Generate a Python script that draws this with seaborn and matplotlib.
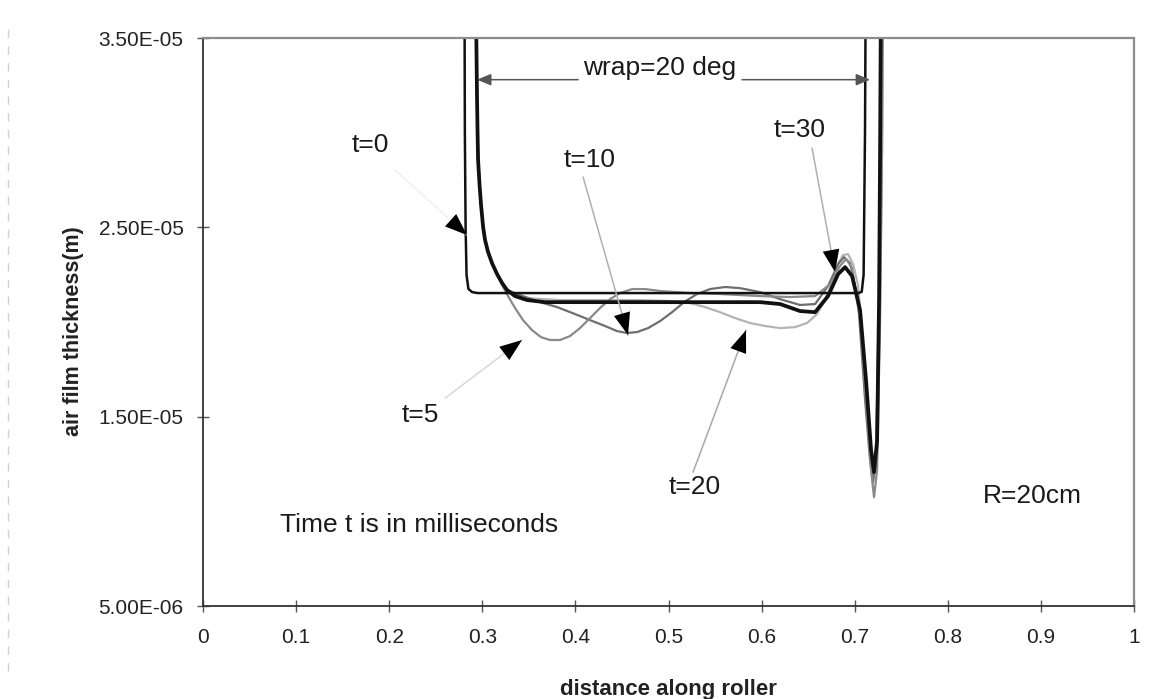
import numpy as np
import pandas as pd
import matplotlib
matplotlib.use("Agg")
import matplotlib.pyplot as plt
from matplotlib.lines import Line2D
import seaborn as sns

sns.set_style("white")
plt.rcParams["font.family"] = ["Liberation Sans", "DejaVu Sans"]

# ---- air film profiles along the roller (x: fraction of roller, y: metres) ----
# entry region shared by the later profiles
inlet_x = [0.2928, 0.2938, 0.2943, 0.2948, 0.2954, 0.2970, 0.2986, 0.3008, 0.3029,
           0.3061, 0.3104]
inlet_y = [3.80e-5, 3.384e-5, 3.172e-5, 3.014e-5, 2.856e-5, 2.723e-5, 2.618e-5,
           2.502e-5, 2.433e-5, 2.370e-5, 2.311e-5]
inlet_tail_x = [0.3158, 0.3212, 0.3265]
inlet_tail_y = [2.253e-5, 2.206e-5, 2.169e-5]

x_t0 = [0.2808, 0.2812, 0.2820, 0.2830, 0.2850, 0.2890, 0.2950, 0.4500, 0.6000,
        0.7040, 0.7075, 0.7095, 0.7110, 0.7118]
y_t0 = [3.80e-5, 3.00e-5, 2.50e-5, 2.25e-5, 2.175e-5, 2.158e-5, 2.153e-5, 2.153e-5,
        2.153e-5, 2.153e-5, 2.160e-5, 2.25e-5, 3.00e-5, 3.80e-5]

x_t5 = [0.3158, 0.3212, 0.3276, 0.3351, 0.3437, 0.3534, 0.3630, 0.3727, 0.3835,
        0.3942, 0.4049, 0.4157, 0.4264, 0.4372, 0.4479, 0.4608, 0.4748, 0.4909,
        0.5231, 0.5553, 0.5983, 0.6305, 0.6574, 0.6735, 0.6842, 0.6907, 0.6971,
        0.7057, 0.7121, 0.7175, 0.7207, 0.7240, 0.7272, 0.7293, 0.7304]
y_t5 = [2.253e-5, 2.195e-5, 2.137e-5, 2.074e-5, 2.010e-5, 1.957e-5, 1.920e-5, 1.905e-5,
        1.905e-5, 1.926e-5, 1.968e-5, 2.021e-5, 2.074e-5, 2.121e-5, 2.153e-5, 2.174e-5,
        2.174e-5, 2.164e-5, 2.153e-5, 2.148e-5, 2.137e-5, 2.132e-5, 2.137e-5, 2.200e-5,
        2.296e-5, 2.333e-5, 2.285e-5, 2.010e-5, 1.588e-5, 1.218e-5, 1.075e-5, 1.218e-5,
        2.010e-5, 2.908e-5, 3.80e-5]

x_t10 = [0.3405, 0.3620, 0.3802, 0.3996, 0.4157, 0.4318, 0.4447, 0.4554, 0.4662,
         0.4780, 0.4909, 0.5038, 0.5166, 0.5306, 0.5446, 0.5607, 0.5768, 0.5983,
         0.6198, 0.6412, 0.6574, 0.6713, 0.6821, 0.6885, 0.6950, 0.7035, 0.7111,
         0.7164, 0.7197, 0.7229, 0.7261, 0.7282, 0.7293]
y_t10 = [2.142e-5, 2.105e-5, 2.079e-5, 2.042e-5, 2.010e-5, 1.979e-5, 1.952e-5, 1.942e-5,
         1.947e-5, 1.968e-5, 2.005e-5, 2.052e-5, 2.105e-5, 2.148e-5, 2.174e-5, 2.185e-5,
         2.179e-5, 2.158e-5, 2.121e-5, 2.090e-5, 2.095e-5, 2.190e-5, 2.306e-5, 2.343e-5,
         2.311e-5, 2.116e-5, 1.588e-5, 1.271e-5, 1.155e-5, 1.324e-5, 2.116e-5, 2.908e-5,
         3.80e-5]

x_t20 = [0.3480, 0.3835, 0.4264, 0.4694, 0.5016, 0.5231, 0.5392, 0.5553, 0.5714,
         0.5875, 0.6036, 0.6198, 0.6359, 0.6488, 0.6595, 0.6681, 0.6756, 0.6821,
         0.6874, 0.6928, 0.6982, 0.7035, 0.7078, 0.7121, 0.7175, 0.7207, 0.7240,
         0.7272, 0.7293, 0.7304]
y_t20 = [2.126e-5, 2.116e-5, 2.116e-5, 2.116e-5, 2.111e-5, 2.100e-5, 2.079e-5, 2.052e-5,
         2.021e-5, 1.995e-5, 1.979e-5, 1.968e-5, 1.973e-5, 1.995e-5, 2.042e-5, 2.116e-5,
         2.211e-5, 2.306e-5, 2.354e-5, 2.359e-5, 2.306e-5, 2.195e-5, 1.957e-5, 1.588e-5,
         1.260e-5, 1.176e-5, 1.324e-5, 2.116e-5, 2.908e-5, 3.80e-5]

x_t30 = [0.3351, 0.3480, 0.3673, 0.4500, 0.5500, 0.5983, 0.6198, 0.6412, 0.6574,
         0.6713, 0.6821, 0.6896, 0.6971, 0.7057, 0.7121, 0.7175, 0.7207, 0.7240,
         0.7261, 0.7272, 0.7282]
y_t30 = [2.137e-5, 2.116e-5, 2.105e-5, 2.105e-5, 2.105e-5, 2.105e-5, 2.095e-5, 2.058e-5,
         2.052e-5, 2.137e-5, 2.253e-5, 2.290e-5, 2.243e-5, 2.063e-5, 1.693e-5, 1.324e-5,
         1.207e-5, 1.376e-5, 2.116e-5, 2.908e-5, 3.80e-5]

x_ticks = [0, 0.1, 0.2, 0.3, 0.4, 0.5, 0.6, 0.7, 0.8, 0.9, 1]
x_tick_labels = ["0", "0.1", "0.2", "0.3", "0.4", "0.5", "0.6", "0.7", "0.8", "0.9", "1"]
y_ticks = [5.0e-6, 1.5e-5, 2.5e-5, 3.5e-5]
y_tick_labels = ["5.00E-06", "1.50E-05", "2.50E-05", "3.50E-05"]

# full profiles: later times start from the common entry shape
full = {
    "t=0": (x_t0, y_t0),
    "t=5": (inlet_x + x_t5, inlet_y + y_t5),
    "t=10": (inlet_x + inlet_tail_x + x_t10, inlet_y + inlet_tail_y + y_t10),
    "t=20": (inlet_x + inlet_tail_x + x_t20, inlet_y + inlet_tail_y + y_t20),
    "t=30": (inlet_x + inlet_tail_x + x_t30, inlet_y + inlet_tail_y + y_t30),
}
styles = [
    ("t=20", "#b4b4b4", 1.6),
    ("t=10", "#6e6e6e", 1.6),
    ("t=5", "#8a8a8a", 1.6),
    ("t=0", "#111111", 1.8),
    ("t=30", "#111111", 2.7),
]
df = pd.concat(
    [pd.DataFrame({"distance": full[k][0], "thickness": full[k][1], "time": k})
     for k in full],
    ignore_index=True,
)

fig = plt.figure(figsize=(11.61, 6.99), dpi=100)
ax = fig.add_axes([0.1749, 0.1330, 0.8019, 0.8126])

for name, color, lw in styles:
    sub = df[df["time"] == name]
    sns.lineplot(data=sub, x="distance", y="thickness", ax=ax, sort=False,
                 estimator=None, color=color, linewidth=lw, legend=False)

ax.set_xlim(0, 1)
ax.set_ylim(5.0e-6, 3.5e-5)
ax.set_xticks(x_ticks)
ax.set_xticklabels(x_tick_labels)
ax.set_yticks(y_ticks)
ax.set_yticklabels(y_tick_labels)
ax.tick_params(axis="both", direction="inout", length=8, width=1,
               color="#555555", labelsize=15, labelcolor="#222222")
ax.tick_params(axis="x", pad=12)
ax.tick_params(axis="y", pad=10)
ax.tick_params(bottom=True, left=True)

for side in ("left", "bottom"):
    ax.spines[side].set_color("#333333")
    ax.spines[side].set_linewidth(1.3)
for side in ("top", "right"):
    ax.spines[side].set_color("#8c8c8c")
    ax.spines[side].set_linewidth(1.6)

ax.set_xlabel("distance along roller", fontsize=16, fontweight="bold", color="#222222")
ax.set_ylabel("air film thickness(m)", fontsize=15.5, fontweight="bold", color="#222222")
ax.xaxis.set_label_coords(0.5, -0.128)
ax.yaxis.set_label_coords(-0.128, 0.484)

txt = dict(fontsize=19, color="#1a1a1a", ha="center", va="center")
ax.text(0.1794, 2.935e-5, "t=0", **txt)
ax.text(0.4157, 2.856e-5, "t=10", **txt)
ax.text(0.6412, 3.014e-5, "t=30", **txt)
ax.text(0.2331, 1.508e-5, "t=5", **txt)
ax.text(0.5285, 1.128e-5, "t=20", **txt)
ax.text(0.8904, 1.081e-5, "R=20cm", **txt)
ax.text(0.0827, 0.927e-5, "Time t is in milliseconds", fontsize=19,
        color="#1a1a1a", ha="left", va="center")
ax.text(0.4909, 3.340e-5, "wrap=20 deg", **txt)


def pointer(start, tip, shaft_color):
    ax.annotate("", xy=tip, xytext=start,
                arrowprops=dict(arrowstyle="-", color=shaft_color, lw=1.1,
                                shrinkA=0, shrinkB=0))
    back = (tip[0] + 0.2 * (start[0] - tip[0]), tip[1] + 0.2 * (start[1] - tip[1]))
    ax.annotate("", xy=tip, xytext=back,
                arrowprops=dict(arrowstyle="-|>,head_length=0.8,head_width=0.3",
                                color="black", lw=0, mutation_scale=20,
                                shrinkA=0, shrinkB=0))


pointer((0.2062, 2.803e-5), (0.2836, 2.459e-5), "#f0f0f0")
pointer((0.4082, 2.766e-5), (0.4565, 1.931e-5), "#b0b0b0")
pointer((0.2599, 1.598e-5), (0.3426, 1.905e-5), "#d8d8d8")
pointer((0.5263, 1.207e-5), (0.5832, 1.957e-5), "#a8a8a8")
pointer((0.6541, 2.919e-5), (0.6788, 2.264e-5), "#b0b0b0")

# span of the wrap angle
for start, tip in (((0.4028, 3.28e-5), (0.2943, 3.28e-5)),
                   ((0.5790, 3.28e-5), (0.7164, 3.28e-5))):
    ax.annotate("", xy=tip, xytext=start,
                arrowprops=dict(arrowstyle="-|>,head_length=0.6,head_width=0.25",
                                color="#555555", lw=1.1, mutation_scale=14,
                                shrinkA=0, shrinkB=0))

fig.add_artist(Line2D([0.007, 0.007], [0.04, 0.97], transform=fig.transFigure,
                      color="#d0d0d0", lw=1, ls=(0, (6, 6))))

fig.savefig("out.png", dpi=100)
